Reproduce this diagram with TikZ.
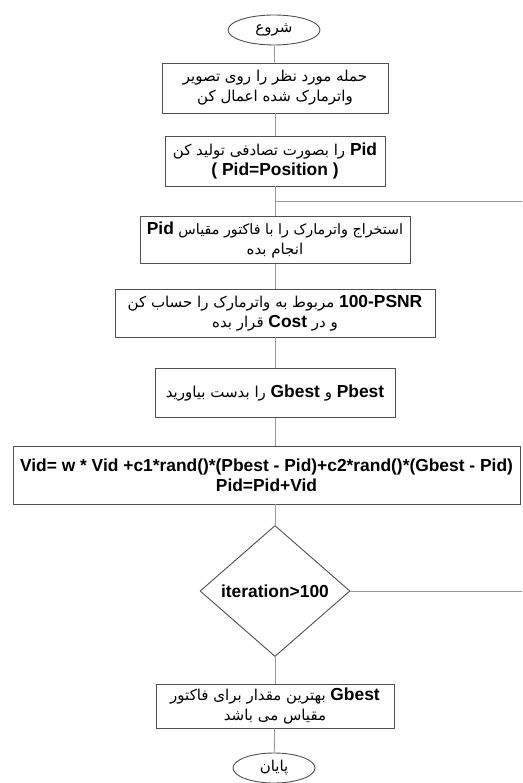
\documentclass[tikz,border=0pt]{standalone}
\usepackage{fontspec}
\setmainfont{Liberation Sans}
\newfontfamily\arabicfont[Script=Arabic]{DejaVu Sans}
\TeXXeTstate=1
\usetikzlibrary{shapes.geometric}
\definecolor{boxline}{HTML}{505050}
\definecolor{conn}{HTML}{9A9A9A}
\newcommand\fa[1]{{\arabicfont\fontsize{15}{20}\selectfont\beginR #1\endR}}
\newcommand\fas[1]{{\arabicfont\fontsize{14.3}{20}\selectfont\beginR #1\endR}}
\newcommand\lb[1]{\beginL{\rmfamily\bfseries\fontsize{17.4}{20}\selectfont #1}\endL}
\begin{document}
\begin{tikzpicture}[x=1pt,y=-1pt,
  every node/.style={inner sep=0pt, align=center, font=\fontsize{17.4}{20}\selectfont},
  procbox/.style={draw=boxline, line width=0.9pt, fill=white},
  termin/.style={ellipse, draw=boxline, line width=0.9pt, fill=white},
  decision/.style={diamond, draw=boxline, line width=0.9pt, fill=white},
  connector/.style={draw=conn, line width=0.9pt}]
\useasboundingbox (0,0) rectangle (522,783);

\node[termin, minimum width=92, minimum height=30] (start) at (274,30) {\fa{شروع}};
\node[procbox, minimum width=226, minimum height=50] (b1) at (275,88)
  {\fa{حمله مورد نظر را روی تصویر}\\ \fa{واترمارک شده اعمال کن}};
\node[procbox, minimum width=220, minimum height=50] (b2) at (275,161)
  {\fa{\lb{Pid} را بصورت تصادفی تولید کن}\\ {\bfseries ( Pid=Position )}};
\coordinate (jn) at (275,201);
\coordinate (re1) at (522,201);
\node[procbox, minimum width=270, minimum height=47] (b3) at (275,240)
  {\fas{استخراج واترمارک را با فاکتور مقیاس \lb{Pid}}\\ \fa{انجام بده}};
\node[procbox, minimum width=320, minimum height=48] (b4) at (275,313)
  {\fa{\lb{100-PSNR} مربوط به واترمارک را حساب کن}\\ \fa{و در \lb{Cost} قرار بده}};
\node[procbox, minimum width=240, minimum height=49] (b5) at (275,393)
  {\fa{\lb{Pbest} و \lb{Gbest} را بدست بیاورید}};
\node[procbox, minimum width=507, minimum height=58] (b6) at (266.5,475)
  {\bfseries Vid= w * Vid +c1*rand()*(Pbest - Pid)+c2*rand()*(Gbest - Pid)\\ \bfseries Pid=Pid+Vid};
\node[decision, minimum width=150, minimum height=131] (d1) at (275,591)
  {\makebox[0pt]{\bfseries iteration>100}};
\coordinate (re2) at (522,591);
\node[procbox, minimum width=238, minimum height=44] (b7) at (275,706)
  {\fa{\lb{Gbest} بهترین مقدار برای فاکتور}\\ \fa{مقیاس می باشد}};
\node[termin, minimum width=82, minimum height=30] (end) at (274,768) {\fa{پایان}};

\draw[connector] (start) -- (b1);
\draw[connector] (b1) -- (b2);
\draw[connector] (b2) -- (b3);
\draw[connector] (jn) -- (re1);
\draw[connector] (b3) -- (b4);
\draw[connector] (b4) -- (b5);
\draw[connector] (b5.south) -- (b5.south |- b6.north);
\draw[connector] (b5.south |- b6.south) -- (d1.north);
\draw[connector] (d1.east) -- (re2);
\draw[connector] (d1) -- (b7);
\draw[connector] (b7) -- (end);
\end{tikzpicture}
\end{document}
